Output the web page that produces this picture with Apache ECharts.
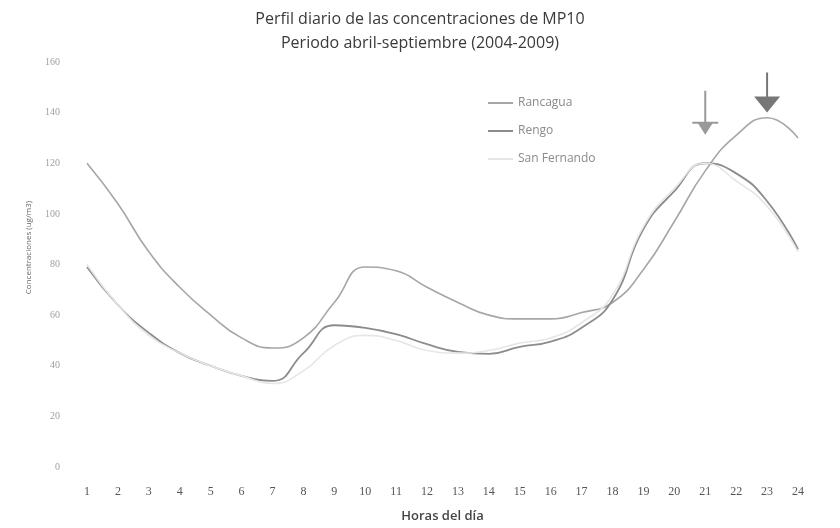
<!DOCTYPE html>
<html>
<head>
<meta charset="utf-8">
<script src="https://cdn.jsdelivr.net/npm/echarts@6/dist/echarts.min.js"></script>
<style>
  html, body { margin: 0; padding: 0; background: #fff; }
  #chart { width: 840px; height: 528px; }
</style>
</head>
<body>
<div id="chart"></div>
<script>
var horas = ['1','2','3','4','5','6','7','8','9','10','11','12','13','14','15','16','17','18','19','20','21','22','23','24'];
var rancagua = [120, 104, 85, 71, 60, 51, 47, 51, 65, 79, 77.5, 71, 65, 60, 58.5, 58.5, 61, 65, 78, 97, 117, 131, 138, 130];
var rengo = [79, 64, 53, 45, 40, 36, 34, 45, 56, 55, 52.5, 48.5, 45.5, 44.7, 47.5, 49.5, 55, 66, 94, 109, 120, 116, 105, 86];
var sanFernando = [80, 64, 52, 45, 40, 36, 33, 38, 48, 52, 50, 46, 45, 46, 49, 51, 57, 68, 95, 110, 120, 113, 103, 85];
var yTicks = [0, 20, 40, 60, 80, 100, 120, 140, 160];

var dom = document.getElementById('chart');
var myChart = echarts.init(dom);

// flechas dibujadas a mano en el original
var flechaGrande = 'path://M12,0 L14,0 L14,24 L26,24 L13,40 L0,24 L12,24 Z';
var flechaChica = 'path://M12,0 L14,0 L14,31 L26,31 L26,33 L20,33 L13,44 L6,33 L0,33 L0,31 L12,31 Z';

var option = {
    backgroundColor: '#fff',
    animation: false,
    title: {
        text: 'Perfil diario de las concentraciones de MP10\nPeriodo abril-septiembre (2004-2009)',
        left: 'center',
        top: 2,
        textStyle: {
            fontFamily: 'Open Sans',
            fontSize: 16,
            fontWeight: 'normal',
            color: '#3a3a3a',
            lineHeight: 24
        }
    },
    legend: {
        orient: 'vertical',
        left: 488,
        top: 97,
        padding: 0,
        itemWidth: 25,
        itemHeight: 14,
        itemGap: 16,
        icon: 'path://M0,6 L25,6 L25,8 L0,8 Z',
        data: ['Rancagua', 'Rengo', 'San Fernando'],
        textStyle: { fontFamily: 'Open Sans', fontSize: 12, color: '#8a8a8a' }
    },
    grid: { left: 87, right: 42, top: 62, bottom: 54 },
    xAxis: {
        type: 'category',
        data: horas,
        boundaryGap: false,
        name: 'Horas del día',
        nameLocation: 'middle',
        nameGap: 43,
        nameTextStyle: { fontFamily: 'Open Sans', fontSize: 13, fontWeight: 600, color: '#444' },
        axisLine: { show: false },
        axisTick: { show: false },
        axisLabel: { margin: 19, fontFamily: 'Liberation Serif', fontSize: 12, color: '#555' }
    },
    yAxis: {
        type: 'value',
        min: yTicks[0],
        max: yTicks[yTicks.length - 1],
        interval: 20,
        name: 'Concentraciones (ug/m3)',
        nameLocation: 'middle',
        nameGap: 54,
        nameTextStyle: { fontFamily: 'Open Sans', fontSize: 8, color: '#666', padding: [0, 0, 0, 34] },
        splitLine: { show: false },
        axisLine: { show: false },
        axisTick: { show: false },
        axisLabel: { margin: 27, fontFamily: 'Liberation Serif', fontSize: 10, color: '#a0a0a0' }
    },
    series: [
        {
            name: 'Rancagua',
            type: 'line',
            data: rancagua,
            smooth: 0.5,
            showSymbol: false,
            itemStyle: { color: '#a6a6a6' },
            lineStyle: { width: 1.6, color: '#a6a6a6' },
            markPoint: {
                silent: true,
                label: { show: false },
                data: [
                    { coord: ['23', 148], symbol: flechaGrande, symbolSize: [26, 40], itemStyle: { color: '#777' } },
                    { coord: ['21', 140], symbol: flechaChica, symbolSize: [26, 44], itemStyle: { color: '#999' } }
                ]
            }
        },
        {
            name: 'Rengo',
            type: 'line',
            data: rengo,
            smooth: 0.5,
            showSymbol: false,
            itemStyle: { color: '#8c8c8c' },
            lineStyle: { width: 1.8, color: '#8c8c8c' }
        },
        {
            name: 'San Fernando',
            type: 'line',
            data: sanFernando,
            smooth: 0.5,
            showSymbol: false,
            itemStyle: { color: '#e6e6e6' },
            lineStyle: { width: 1.6, color: '#e6e6e6' }
        }
    ]
};

if (option && typeof option === 'object') {
    myChart.setOption(option, true);
}
</script>
</body>
</html>
